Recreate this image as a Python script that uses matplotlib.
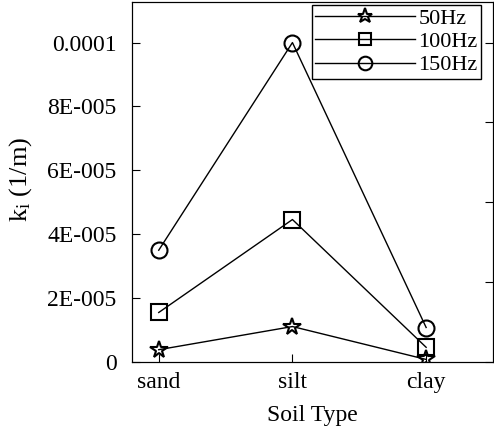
import numpy as np
import matplotlib
matplotlib.use("Agg")
import matplotlib.pyplot as plt
from matplotlib.ticker import FixedLocator, FixedFormatter

plt.rcParams['font.family'] = ['Liberation Serif', 'DejaVu Serif']
plt.rcParams['mathtext.fontset'] = 'custom'
plt.rcParams['mathtext.rm'] = 'Liberation Serif'
plt.rcParams['mathtext.it'] = 'Liberation Serif:italic'

# data
soils = ['sand', 'silt', 'clay']
k_50hz = [3.85e-6, 1.11e-5, 0.8e-6]
k_100hz = [1.55e-5, 4.46e-5, 4.6e-6]
k_150hz = [3.50e-5, 1.0e-4, 1.08e-5]
series_labels = ['50Hz', '100Hz', '150Hz']
y_ticks = [0, 2e-5, 4e-5, 6e-5, 8e-5, 1e-4]
y_tick_labels = ['0', '2E-005', '4E-005', '6E-005', '8E-005', '0.0001']
right_ticks = [0, 2.5e-5, 5e-5, 7.5e-5, 1e-4]

fig = plt.figure(figsize=(4.94, 4.29), dpi=100)
ax = fig.add_axes([132/494, 1-362/429, (493-132)/494, (362-2)/429])

x = np.arange(len(soils))
style = dict(color='black', lw=1.0, mfc='none', mec='black', mew=1.5)
ax.plot(x, k_50hz, marker='*', ms=13, label=series_labels[0], **style)
ax.plot(x, k_100hz, marker='s', ms=11, label=series_labels[1], **style)
ax.plot(x, k_150hz, marker='o', ms=11.5, label=series_labels[2], **style)

ax.set_xlim(-0.2, 2.5)
ax.set_ylim(0, 1.127e-4)
ax.set_xticks(x)
ax.set_xticklabels(soils, fontsize=17)
ax.yaxis.set_major_locator(FixedLocator(y_ticks))
ax.yaxis.set_major_formatter(FixedFormatter(y_tick_labels))
ax.tick_params(axis='y', labelsize=17, direction='in', length=6, pad=11)
ax.tick_params(axis='x', direction='in', length=6, pad=7)
ax.set_xlabel('Soil Type', fontsize=17, labelpad=9)
ax.set_ylabel(r'k$_\mathregular{i}$ (1/m)', fontsize=19)
ax.yaxis.set_label_coords(-0.272, 0.507)

ax2 = ax.twinx()
ax2.set_ylim(ax.get_ylim())
ax2.set_yticks(right_ticks)
ax2.tick_params(axis='y', direction='in', length=6, labelright=False)

leg = ax.legend(loc='upper right', bbox_to_anchor=(481/494, 1-5/429),
                bbox_transform=fig.transFigure, fontsize=16, frameon=True,
                fancybox=False, edgecolor='black', framealpha=1,
                handlelength=4.5, handletextpad=0.15, labelspacing=0.12,
                borderpad=0.15, borderaxespad=0, markerscale=0.85)
leg.get_frame().set_linewidth(1.0)

fig.savefig('out.png', dpi=100)
